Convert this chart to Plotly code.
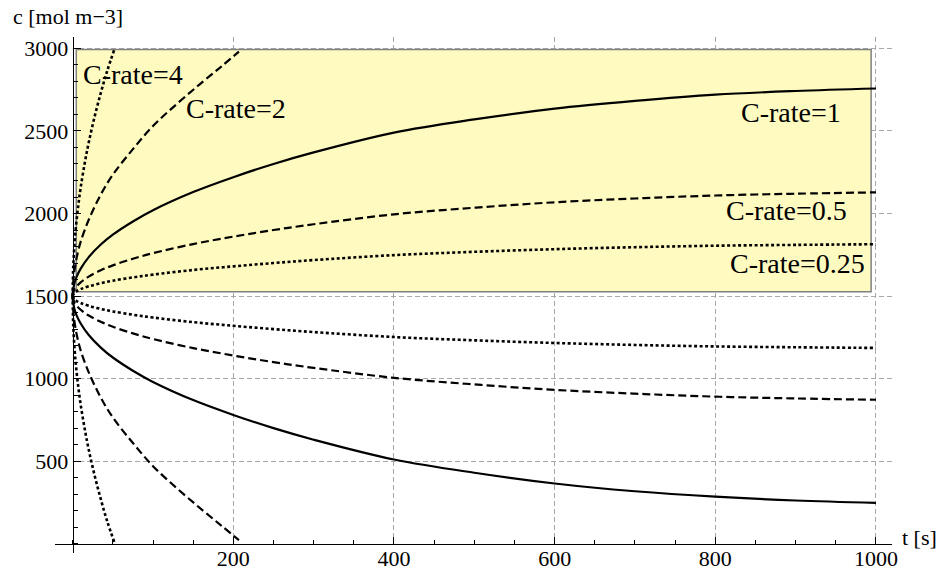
import plotly.graph_objects as go

# Surface concentration c [mol m-3] versus time t [s] for several C-rates.
# Upper branches: charging (concentration rises), lower branches: discharging.

t_low = [0, 2, 5, 10, 20, 35, 50, 75, 100, 150, 200, 250, 300, 400, 500, 600, 700, 800, 900, 1000]

c1_up = [1500, 1575, 1618, 1666, 1736, 1812, 1872, 1952, 2020, 2130, 2220, 2300, 2370, 2490, 2570, 2635, 2682, 2720, 2742, 2757]
c1_dn = [1500, 1425, 1382, 1334, 1264, 1188, 1128, 1048, 980, 870, 780, 700, 630, 510, 430, 365, 318, 285, 262, 248]

c05_up = [1500, 1538, 1559, 1583, 1618, 1656, 1686, 1726, 1760, 1815, 1860, 1900, 1935, 1995, 2035, 2068, 2091, 2109, 2120, 2128]
c05_dn = [1500, 1462, 1441, 1417, 1382, 1344, 1314, 1274, 1240, 1185, 1140, 1100, 1065, 1005, 965, 932, 909, 891, 880, 872]

c025_up = [1500, 1519, 1530, 1542, 1559, 1578, 1593, 1613, 1630, 1658, 1680, 1700, 1718, 1748, 1768, 1784, 1796, 1805, 1810, 1814]
c025_dn = [1500, 1481, 1470, 1458, 1441, 1422, 1407, 1387, 1370, 1342, 1320, 1300, 1282, 1252, 1232, 1216, 1204, 1195, 1190, 1186]

t_c2 = [0, 1, 3, 6, 10, 20, 35, 50, 75, 100, 130, 160, 185, 207]
c2_up = [1500, 1604, 1680, 1755, 1830, 1962, 2115, 2235, 2390, 2530, 2665, 2790, 2890, 2980]
c2_dn = [1500, 1396, 1320, 1245, 1170, 1038, 885, 765, 610, 470, 335, 210, 110, 22]

t_c4 = [0, 0.5, 1, 2, 4, 7, 10, 15, 20, 27, 35, 43, 52]
c4_up = [1500, 1647, 1708, 1794, 1916, 2050, 2158, 2305, 2430, 2580, 2730, 2864, 2995]
c4_dn = [1500, 1353, 1292, 1206, 1084, 950, 842, 695, 570, 420, 270, 136, 8]

x_ticks = [200, 400, 600, 800, 1000]
y_ticks = [500, 1000, 1500, 2000, 2500, 3000]

rate_labels = ["C-rate=4", "C-rate=2", "C-rate=1", "C-rate=0.5", "C-rate=0.25"]

SOLID = ("solid", 2.2)
DASH = ("8px,4px", 2.2)
DOT = ("3px,2.5px", 2.6)

series = [
    (t_c4, c4_up, DOT), (t_c4, c4_dn, DOT),
    (t_c2, c2_up, DASH), (t_c2, c2_dn, DASH),
    (t_low, c1_up, SOLID), (t_low, c1_dn, SOLID),
    (t_low, c05_up, DASH), (t_low, c05_dn, DASH),
    (t_low, c025_up, DOT), (t_low, c025_dn, DOT),
]

fig = go.Figure()
for tx, cy, (dash, width) in series:
    fig.add_trace(go.Scatter(
        x=tx, y=cy, mode="lines",
        line=dict(color="black", width=width, dash=dash, shape="spline", smoothing=1.0),
        showlegend=False, hoverinfo="skip",
    ))

X_MIN, X_MAX = -22, 1020
Y_MIN, Y_MAX = -56, 3069

FONT = "Liberation Serif, Times New Roman, serif"

axis_common = dict(
    showline=True, linecolor="black", linewidth=1.2,
    ticks="inside", ticklen=7, tickwidth=1, tickcolor="black",
    showgrid=True, gridcolor="#a8a8a8", gridwidth=1, griddash="5px,3px",
    zeroline=False, automargin=False,
    tickfont=dict(family=FONT, size=22, color="black"),
)

fig.update_layout(
    width=941, height=572,
    margin=dict(l=55, r=49, t=37, b=19),
    paper_bgcolor="white", plot_bgcolor="white",
    xaxis=dict(
        range=[X_MIN, X_MAX], tickvals=x_ticks,
        anchor="free", position=(0 - Y_MIN) / (Y_MAX - Y_MIN),
        ticklabelstandoff=-5,
        minor=dict(dtick=50, tick0=0, ticks="inside", ticklen=4, tickcolor="black", showgrid=False),
        **axis_common,
    ),
    yaxis=dict(
        range=[Y_MIN, Y_MAX], tickvals=y_ticks,
        anchor="free", position=(0 - X_MIN) / (X_MAX - X_MIN),
        minor=dict(dtick=100, tick0=0, ticks="inside", ticklen=4, tickcolor="black", showgrid=False),
        **axis_common,
    ),
)

# Mask grid lines outside the positive quadrant, and the shaded charging region
fig.add_shape(type="rect", xref="x", yref="y", x0=X_MIN, x1=0, y0=Y_MIN, y1=Y_MAX,
              fillcolor="white", line=dict(width=0), layer="between")
fig.add_shape(type="rect", xref="x", yref="y", x0=X_MIN, x1=X_MAX, y0=Y_MIN, y1=0,
              fillcolor="white", line=dict(width=0), layer="between")
fig.add_shape(type="rect", xref="x", yref="y", x0=4.5, x1=994, y0=1526, y1=2994,
              fillcolor="#FFFAC0", line=dict(color="#808080", width=1.5), layer="between")

label_font = dict(family=FONT, size=28, color="black")
label_pos = [
    (10, 2844, "left"),
    (139, 2639, "left"),
    (959, 2609, "right"),
    (967, 2020, "right"),
    (989, 1699, "right"),
]
for text, (lx, ly, anchor) in zip(rate_labels, label_pos):
    fig.add_annotation(x=lx, y=ly, xref="x", yref="y", text=text, showarrow=False,
                       xanchor=anchor, yanchor="middle", font=label_font)

title_font = dict(family=FONT, size=22, color="black")
fig.add_annotation(x=0, y=1, xref="paper", yref="paper", text="c [mol m\u22123]",
                   showarrow=False, xanchor="left", yanchor="bottom",
                   xshift=-44, yshift=6, font=title_font)
fig.add_annotation(x=1, y=(0 - Y_MIN) / (Y_MAX - Y_MIN), xref="paper", yref="paper",
                   text="t [s]", showarrow=False, xanchor="left", yanchor="middle",
                   xshift=8, yshift=6, font=title_font)

fig.write_html("out.html")
